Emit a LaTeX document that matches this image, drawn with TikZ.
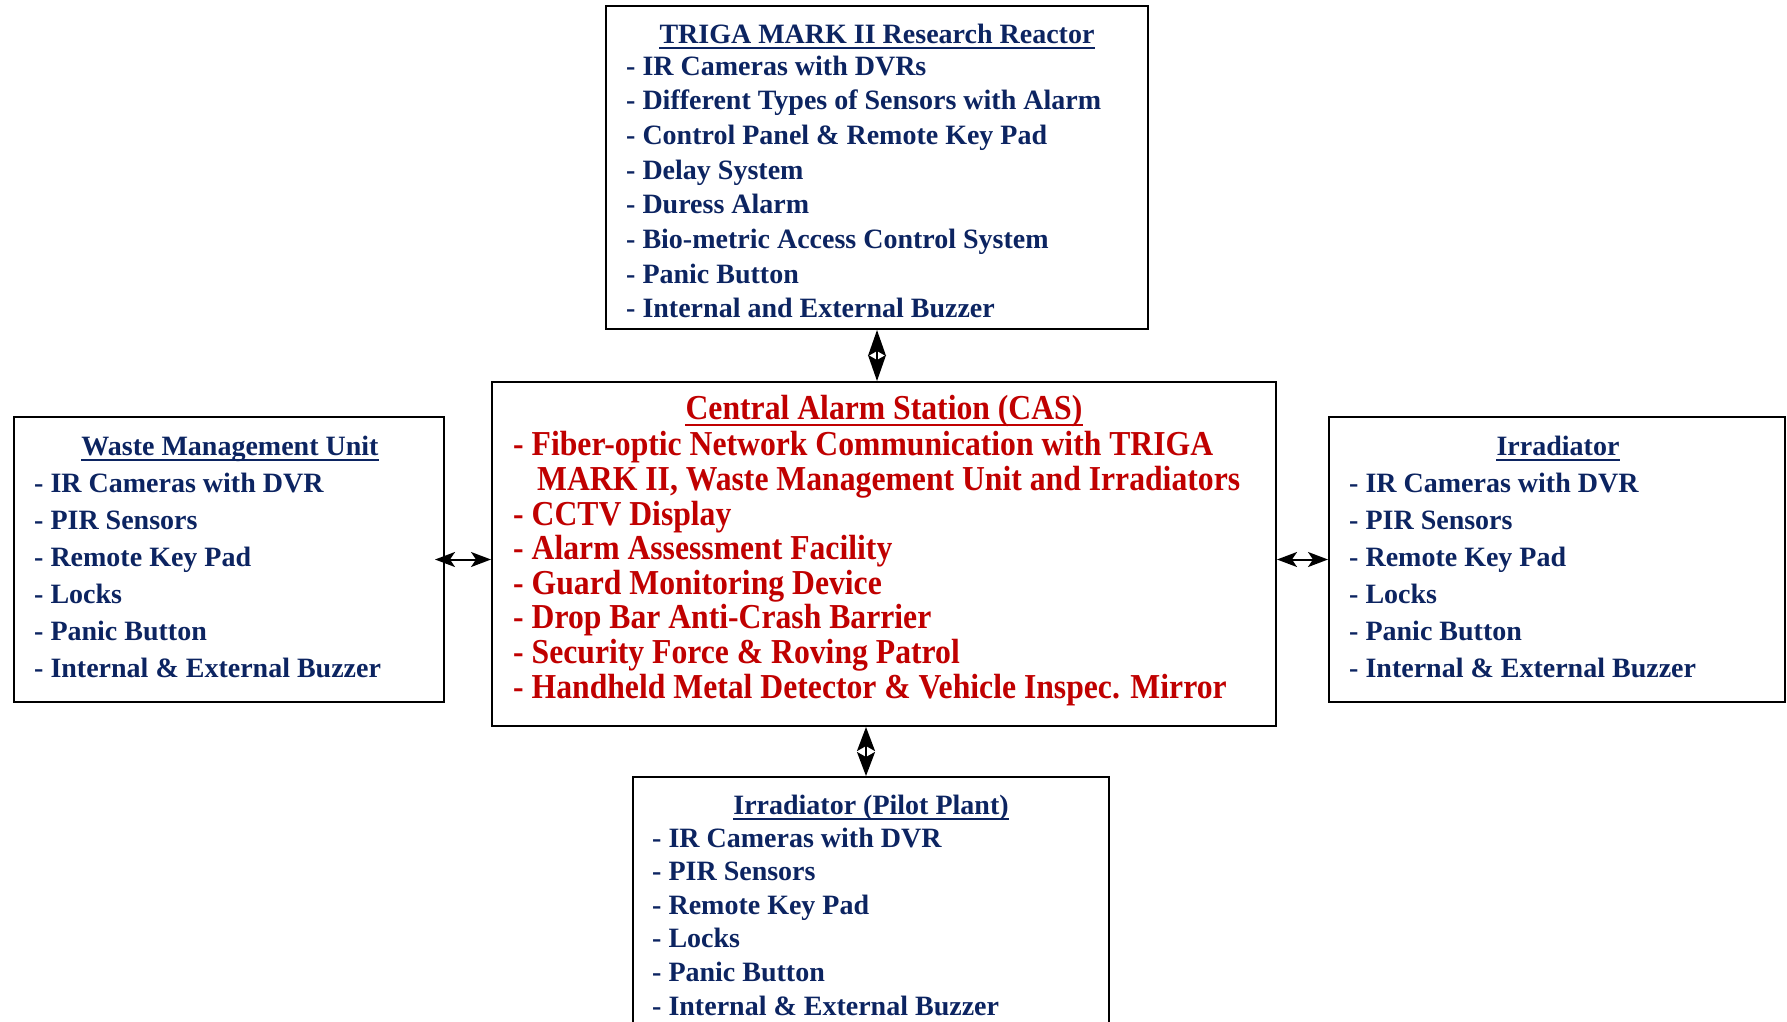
\documentclass[tikz,border=0pt]{standalone}
\usepackage{fontspec}
\setmainfont{Liberation Serif}
\newfontfamily\casfont{Liberation Serif}[FakeStretch=0.905]
\usetikzlibrary{arrows.meta}
\definecolor{navy}{RGB}{12,36,97}
\definecolor{casred}{RGB}{192,0,0}
\tikzset{
  box/.style={draw=black, line width=2pt, inner sep=0pt, minimum width=#1},
  navyitem/.style={text=navy, font=\fontsize{28}{34}\selectfont\bfseries, inner sep=0pt, anchor=base west},
  navytitle/.style={navyitem, anchor=base},
  reditem/.style={text=casred, font=\casfont\fontsize{35}{35}\selectfont\bfseries, inner sep=0pt, anchor=base west},
  redtitle/.style={reditem, anchor=base},
  ulnavy/.style={draw=navy, line width=2pt},
  ulred/.style={draw=casred, line width=2pt},
  vbiarrow/.style={line width=2pt, {Stealth[length=#1,width=18pt,inset=5pt]}-{Stealth[length=#1,width=18pt,inset=5pt]}},
  hbiarrow/.style={line width=2pt, {Stealth[length=20pt,width=15pt,inset=5pt]}-{Stealth[length=20pt,width=15pt,inset=5pt]}},
}
\begin{document}
\begin{tikzpicture}[x=1pt,y=-1pt]
\useasboundingbox (0,0) rectangle (1787,1021);
% boxes
\node[box=542pt, minimum height=323pt] (top) at (877,167.5) {};
\node[box=784pt, minimum height=344pt] (cas) at (884,554) {};
\node[box=430pt, minimum height=285pt] (lft) at (229,559.5) {};
\node[box=456pt, minimum height=285pt] (rgt) at (1557,559.5) {};
\node[box=476pt, minimum height=258pt] (bot) at (871,906) {};
% top box text
\node[navytitle] (toptitle) at (877,43) {TRIGA MARK II Research Reactor};
\draw[ulnavy] ([yshift=-5pt]toptitle.base west) -- ([yshift=-5pt]toptitle.base east);
\foreach \t [count=\i] in {IR Cameras with DVRs, Different Types of Sensors with Alarm, Control Panel \& Remote Key Pad, Delay System, Duress Alarm, Bio-metric Access Control System, Panic Button, Internal and External Buzzer}
  \node[navyitem] (top\i) at (626,{75+(\i-1)*34.7}) {- \t};
% CAS text
\node[redtitle] (castitle) at (884,419) {Central Alarm Station (CAS)};
\draw[ulred] ([yshift=-6pt]castitle.base west) -- ([yshift=-6pt]castitle.base east);
\node[reditem] (cas1) at (513,455) {- Fiber-optic Network Communication with TRIGA};
\node[reditem] (cas1b) at (537,490) {MARK II, Waste Management Unit and Irradiators};
\foreach \t [count=\i] in {CCTV Display, Alarm Assessment Facility, Guard Monitoring Device, Drop Bar Anti-Crash Barrier, Security Force \& Roving Patrol, Handheld Metal Detector \& Vehicle Inspec. Mirror}
  \node[reditem] (cas\i x) at (513,{525+(\i-1)*34.6}) {- \t};
% left box
\node[navytitle] (lfttitle) at (230,455) {Waste Management Unit};
\draw[ulnavy] ([yshift=-5pt]lfttitle.base west) -- ([yshift=-5pt]lfttitle.base east);
\foreach \t [count=\i] in {IR Cameras with DVR, PIR Sensors, Remote Key Pad, Locks, Panic Button, Internal \& External Buzzer}
  \node[navyitem] (lft\i) at (34,{492+(\i-1)*37}) {- \t};
% right box
\node[navytitle] (rgttitle) at (1558,455) {Irradiator};
\draw[ulnavy] ([yshift=-5pt]rgttitle.base west) -- ([yshift=-5pt]rgttitle.base east);
\foreach \t [count=\i] in {IR Cameras with DVR, PIR Sensors, Remote Key Pad, Locks, Panic Button, Internal \& External Buzzer}
  \node[navyitem] (rgt\i) at (1349,{492+(\i-1)*37}) {- \t};
% bottom box
\node[navytitle] (bottitle) at (871,814) {Irradiator (Pilot Plant)};
\draw[ulnavy] ([yshift=-5pt]bottitle.base west) -- ([yshift=-5pt]bottitle.base east);
\foreach \t [count=\i] in {IR Cameras with DVR, PIR Sensors, Remote Key Pad, Locks, Panic Button, Internal \& External Buzzer}
  \node[navyitem] (bot\i) at (652,{847+(\i-1)*33.6}) {- \t};
% connectors
\draw[vbiarrow=26pt] (top.south) -- (top.south |- cas.north);
\draw[vbiarrow=24pt] ([xshift=-18pt]cas.south) -- ([xshift=-18pt]cas.south |- bot.north);
\draw[hbiarrow, shorten <=-10pt] (lft.east) -- (lft.east -| cas.west);
\draw[hbiarrow] (cas.east |- rgt.west) -- (rgt.west);
\end{tikzpicture}
\end{document}
